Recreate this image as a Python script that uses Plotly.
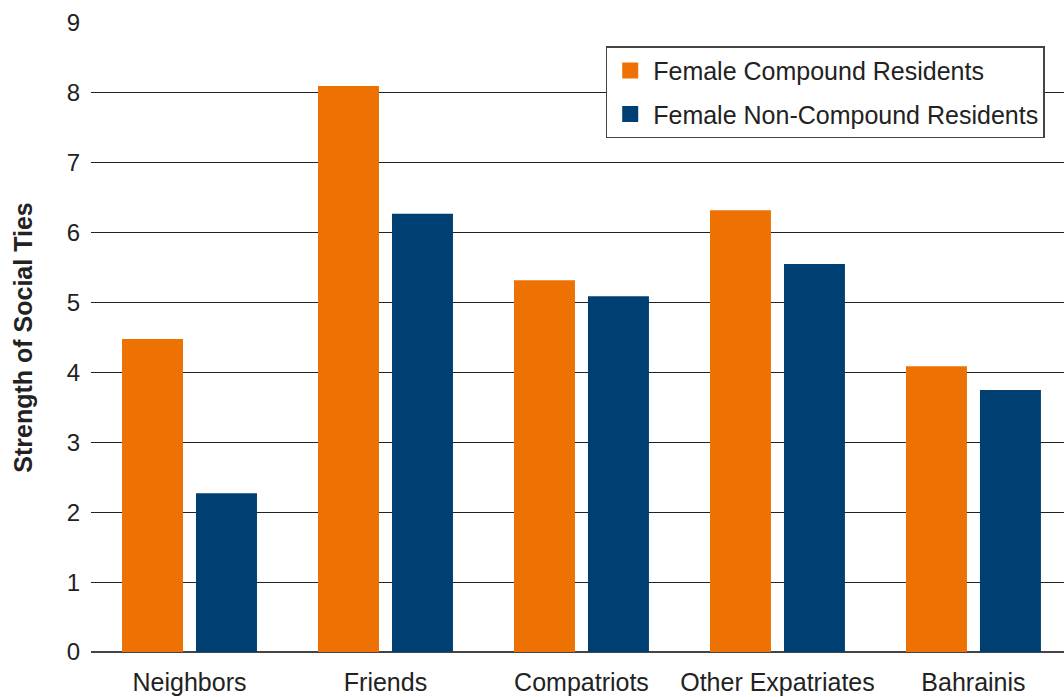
import plotly.graph_objects as go

categories = ["Neighbors", "Friends", "Compatriots", "Other Expatriates", "Bahrainis"]
compound = [4.48, 8.10, 5.32, 6.32, 4.09]
non_compound = [2.27, 6.27, 5.09, 5.55, 3.75]
series_names = ["Female Compound Residents", "Female Non-Compound Residents"]
colors = ["#EE7203", "#003F72"]
y_ticks = list(range(0, 10))

font_family = "Liberation Sans, Arial, Helvetica, sans-serif"

fig = go.Figure()
for vals, name, col, grp in [(compound, series_names[0], colors[0], "a"),
                             (non_compound, series_names[1], colors[1], "b")]:
    fig.add_trace(go.Bar(x=categories, y=vals, name=name, showlegend=False,
                         marker=dict(color=col, line=dict(width=0)), legendgroup=grp))
# legend entries with larger square swatches
for name, col, grp in [(series_names[0], colors[0], "a"), (series_names[1], colors[1], "b")]:
    fig.add_trace(go.Scatter(x=[None], y=[None], mode="markers", name=name, legendgroup=grp,
                             marker=dict(symbol="square", size=16, color=col, line=dict(width=0))))

fig.update_layout(
    width=1064, height=697,
    margin=dict(l=91, r=0, t=23, b=45),
    paper_bgcolor="white", plot_bgcolor="white",
    barmode="group", bargap=0.245, bargroupgap=0.176,
    font=dict(family=font_family, color="#222222"),
    legend=dict(x=0.529, y=0.963, xanchor="left", yanchor="top",
                bordercolor="#444444", borderwidth=1.5, bgcolor="white",
                font=dict(size=25, color="#222222"), tracegroupgap=8, itemwidth=36),
    xaxis=dict(range=[-0.5026, 4.462], showgrid=False, ticks="",
               tickfont=dict(size=25, color="#222222"), showline=False,
               ticklabelstandoff=13),
    yaxis=dict(range=[0, 9], tickvals=y_ticks, showgrid=True, gridcolor="#222222",
               gridwidth=1, zeroline=True, zerolinecolor="#444444", zerolinewidth=1.5,
               ticks="", ticklabelstandoff=10, tickfont=dict(size=24, color="#222222"),
               title=dict(text="<b>Strength of Social Ties</b>", font=dict(size=25, color="#222222"),
                          standoff=26)),
)

fig.write_html("out.html")
